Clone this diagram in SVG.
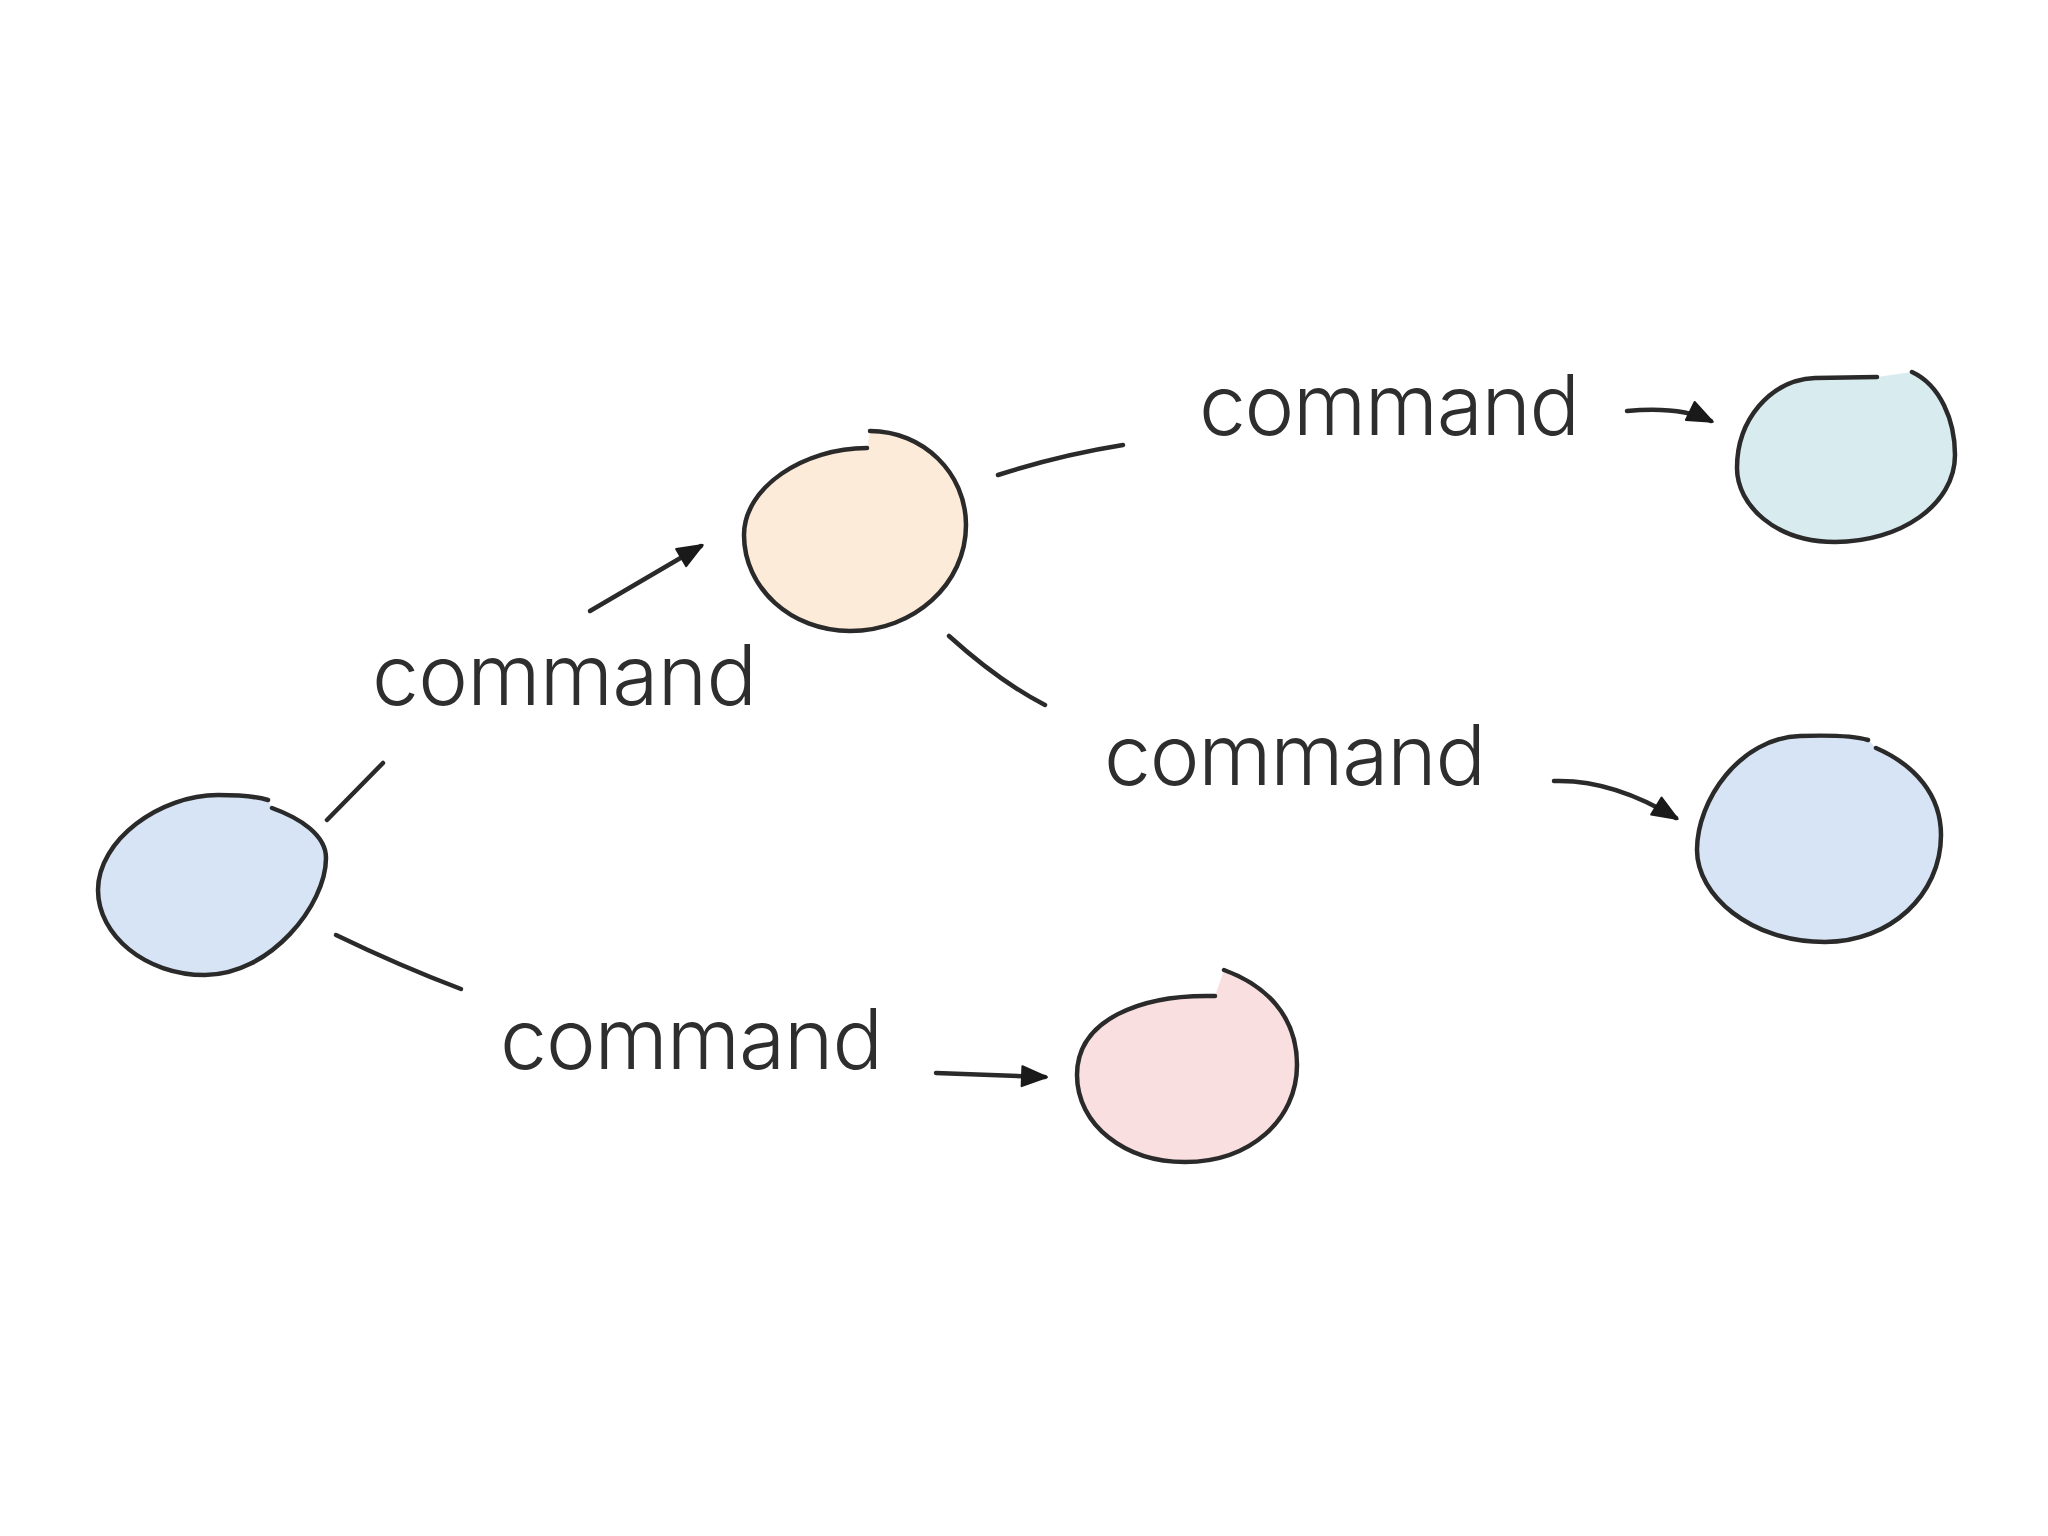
<svg xmlns="http://www.w3.org/2000/svg" width="2048" height="1536" viewBox="0 0 2048 1536">
<style>
.edge{fill:none;stroke:#2a2a2a;stroke-width:4.5;stroke-linecap:round;stroke-linejoin:round}
.ring{stroke:#2a2a2a;stroke-width:4.5;stroke-linecap:round;stroke-linejoin:round}
.lbl{font-family:Inter,"Liberation Sans","DejaVu Sans",sans-serif;font-weight:300;font-size:84px;fill:#2e2e2e}
</style>
<defs>
<marker id="ah" markerUnits="userSpaceOnUse" markerWidth="30" markerHeight="30" viewBox="0 0 30 30" refX="26" refY="15" orient="auto">
<path d="M3 5 L28 15 L3 25 Z" fill="#1a1a1a" stroke="#1a1a1a" stroke-width="2" stroke-linejoin="round"/>
</marker>
</defs>
<rect width="2048" height="1536" fill="#ffffff"/>
<g id="node-left-blue">
<path class="ring" fill="#d6e4f5" d="M 272 808 C 300 818, 326 835, 326 858 C 326 905, 270 975, 205 975 C 145 975, 98 935, 98 890 C 98 840, 160 795, 218 795 C 240 795, 258 797, 268 800"/>
</g>
<g id="node-orange">
<path class="ring" fill="#fdebd9" d="M 867 448 C 804 448, 744 487, 744 535 C 744 588, 791 631, 850 631 C 914 631, 966 584, 966 525 C 966 473, 923 431, 870 431"/>
</g>
<g id="node-teal">
<path class="ring" fill="#d8ebee" d="M 1912 372 C 1940 385, 1955 420, 1955 455 C 1955 505, 1900 542, 1835 542 C 1775 542, 1737 505, 1737 468 C 1737 420, 1770 380, 1815 378 L 1877 377"/>
</g>
<g id="node-right-blue">
<path class="ring" fill="#d6e4f5" d="M 1876 748 C 1915 765, 1941 795, 1941 835 C 1941 895, 1890 942, 1825 942 C 1750 942, 1697 895, 1697 850 C 1697 800, 1740 738, 1800 736 C 1830 735, 1855 736, 1868 740"/>
</g>
<g id="node-pink">
<path class="ring" fill="#fadfe0" d="M 1215 996 C 1140 994, 1077 1020, 1077 1075 C 1077 1125, 1125 1162, 1185 1162 C 1250 1162, 1297 1120, 1297 1065 C 1297 1015, 1265 985, 1224 970"/>
</g>
<g id="connectors">
<path class="edge" d="M 327 820 L 383 763"/>
<path class="edge" d="M 590 611 L 701 546" marker-end="url(#ah)"/>
<path class="edge" d="M 998 475 Q 1060 455, 1123 445"/>
<path class="edge" d="M 1627 411 Q 1680 406, 1711 421" marker-end="url(#ah)"/>
<path class="edge" d="M 949 636 Q 1000 682, 1045 705"/>
<path class="edge" d="M 1554 781 Q 1612 779, 1676 818" marker-end="url(#ah)"/>
<path class="edge" d="M 336 935 Q 400 966, 461 989"/>
<path class="edge" d="M 936 1073 L 1045 1077" marker-end="url(#ah)"/>
</g>
<g id="labels">
<text class="lbl" x="372" y="705" textLength="385" lengthAdjust="spacing">command</text>
<text class="lbl" x="1199" y="435" textLength="381" lengthAdjust="spacing">command</text>
<text class="lbl" x="1104" y="785" textLength="382" lengthAdjust="spacing">command</text>
<text class="lbl" x="500" y="1069" textLength="383" lengthAdjust="spacing">command</text>
</g>
</svg>
